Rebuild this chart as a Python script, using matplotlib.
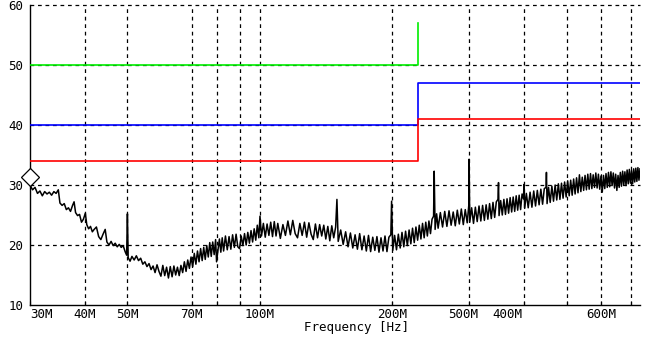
import matplotlib
matplotlib.use("Agg")
import matplotlib.pyplot as plt
from matplotlib.transforms import offset_copy

plt.rcParams['font.family'] = ['DejaVu Sans Mono', 'DejaVu Sans']

# measured trace (MHz, dBuV)
freq_mhz = [
    30.0, 30.4, 30.8, 31.2, 31.6, 32.0, 32.4, 32.8, 33.2, 33.6, 34.0, 34.4, 34.8,
    35.1, 35.5, 35.9, 36.3, 36.7, 37.1, 37.5, 37.8, 38.1, 38.5, 38.9, 39.3, 39.7,
    40.1, 40.4, 40.8, 41.2, 41.6, 42.0, 42.5, 43.0, 43.5, 44.0, 44.5, 44.9, 45.4,
    45.9, 46.4, 46.9, 47.4, 47.9, 48.4, 48.9, 49.4, 49.8, 50.0, 50.2, 50.7, 51.2,
    51.8, 52.4, 53.0, 53.6, 54.2, 54.8, 55.4, 56.0, 56.6, 57.2, 57.8, 58.4, 59.0,
    59.6, 60.2, 60.8, 61.4, 62.0, 62.6, 63.2, 63.8, 64.4, 65.0, 65.6, 66.2, 66.8,
    67.4, 68.0, 68.6, 69.2, 69.8, 70.4, 71.0, 71.6, 72.2, 72.8, 73.4, 74.0, 74.6,
    75.2, 75.8, 76.4, 77.0, 77.6, 78.2, 78.8, 79.4, 79.8, 80.4, 81.0, 81.6, 82.2,
    82.8, 83.6, 84.4, 85.2, 86.0, 86.8, 87.6, 88.4, 89.2, 90.0, 90.8, 91.6, 92.4,
    93.2, 94.0, 94.8, 95.6, 96.4, 97.2, 98.0, 98.8, 99.6, 100.2, 101.0, 102.0,
    103.0, 104.0, 105.0, 106.0, 107.0, 108.0, 109.0, 110.0, 111.5, 113.0, 114.5,
    116.0, 117.5, 119.0, 120.5, 122.0, 123.5, 125.0, 126.5, 128.0, 129.5, 131.0,
    132.5, 134.0, 135.5, 137.0, 138.5, 140.0, 141.5, 143.0, 144.5, 146.0, 147.5,
    149.0, 150.0, 151.0, 153.0, 155.0, 157.0, 159.0, 161.0, 163.0, 165.0, 167.0,
    169.0, 171.0, 173.0, 175.0, 177.0, 179.0, 181.0, 183.0, 185.0, 187.0, 189.0,
    191.0, 193.0, 195.0, 197.0, 199.0, 199.8, 201.0, 203.0, 205.0, 207.0, 209.0,
    211.0, 213.0, 215.0, 217.0, 219.0, 221.0, 223.0, 225.0, 227.0, 229.0, 231.0,
    233.0, 235.0, 237.0, 239.0, 241.0, 243.0, 245.0, 247.0, 249.0, 249.8, 251.0,
    253.0, 255.0, 258.0, 261.0, 264.0, 267.0, 270.0, 273.0, 276.0, 279.0, 282.0,
    285.0, 288.0, 291.0, 294.0, 297.0, 299.5, 300.0, 301.0, 304.0, 307.0, 310.0,
    313.0, 316.0, 319.0, 322.0, 325.0, 328.0, 331.0, 334.0, 337.0, 340.0, 343.0,
    346.0, 349.0, 350.0, 351.0, 354.0, 357.0, 360.0, 363.0, 366.0, 369.0, 372.0,
    375.0, 378.0, 381.0, 384.0, 387.0, 390.0, 393.0, 396.0, 399.0, 400.0, 401.5,
    405.0, 409.0, 413.0, 417.0, 421.0, 425.0, 429.0, 433.0, 437.0, 441.0, 445.0,
    449.0, 450.0, 451.5, 455.0, 459.0, 463.0, 467.0, 471.0, 475.0, 479.0, 483.0,
    487.0, 491.0, 495.0, 499.0, 503.0, 507.0, 511.0, 515.0, 519.0, 523.0, 527.0,
    531.0, 535.0, 539.0, 543.0, 547.0, 551.0, 555.0, 559.0, 563.0, 567.0, 571.0,
    575.0, 579.0, 583.0, 587.0, 591.0, 595.0, 599.0, 603.0, 607.0, 611.0, 615.0,
    619.0, 623.0, 627.0, 631.0, 635.0, 639.0, 643.0, 647.0, 651.0, 655.0, 659.0,
    663.0, 667.0, 671.0, 675.0, 679.0, 683.0, 687.0, 691.0, 695.0, 699.0, 703.0,
    707.0, 711.0, 715.0, 719.0, 723.0, 727.0, 731.0, 735.0,
]
level_db = [
    30.0, 29.2, 29.6, 28.6, 29.0, 28.2, 28.9, 28.5, 28.8, 28.3, 28.9, 28.6, 29.2,
    27.0, 26.6, 26.9, 25.9, 26.2, 25.6, 26.6, 27.2, 25.4, 24.9, 25.1, 23.8, 24.3,
    25.3, 23.4, 22.7, 23.1, 22.2, 22.6, 23.0, 21.4, 20.9, 21.8, 22.6, 20.5, 20.0,
    20.6, 19.9, 20.3, 19.7, 20.1, 19.6, 19.9, 18.9, 18.3, 25.2, 17.9, 17.3, 18.1,
    17.5, 18.2, 17.4, 17.8, 16.8, 17.2, 16.4, 16.9, 15.9, 16.5, 15.4, 16.7, 15.6,
    14.8, 16.6, 14.9, 16.3, 14.5, 16.4, 14.7, 16.5, 15.0, 16.3, 14.9, 16.6, 15.4,
    17.2, 15.6, 17.5, 16.1, 18.0, 16.4, 18.6, 16.8, 19.0, 17.2, 19.4, 17.4, 19.6,
    17.6, 19.9, 18.0, 20.4, 18.1, 20.5, 18.4, 20.9, 17.2, 19.2, 21.0, 18.8, 21.2,
    19.0, 21.5, 19.2, 21.4, 19.3, 21.7, 19.6, 21.8, 19.7, 19.4, 21.5, 19.9, 21.9,
    20.0, 22.1, 20.3, 22.4, 20.5, 22.7, 20.8, 23.3, 21.2, 24.8, 21.5, 23.6,
    21.3, 23.5, 21.6, 23.8, 21.4, 23.9, 21.5, 23.6, 21.1, 23.4, 21.6,
    24.0, 21.7, 24.1, 21.9, 21.2, 23.6, 21.6, 23.8, 21.3, 23.7, 21.8,
    20.9, 23.5, 21.2, 23.4, 21.5, 23.3, 21.0, 23.1, 20.7, 23.2, 21.2,
    23.0, 27.6, 20.6, 22.5, 20.1, 22.2, 19.7, 22.0, 19.5, 21.7, 19.3,
    21.9, 19.2, 21.5, 19.0, 21.6, 18.9, 21.3, 19.1, 21.4, 18.8, 21.2,
    19.0, 21.5, 18.9, 21.3, 21.7, 27.3, 19.1, 21.6, 19.2, 21.8, 19.5,
    22.1, 19.7, 22.3, 19.9, 22.5, 20.2, 22.8, 20.4, 23.0, 20.8, 23.3,
    21.0, 23.6, 21.2, 23.8, 21.5, 24.0, 21.9, 24.3, 24.8, 32.3, 22.6,
    25.2, 22.8, 25.4, 23.0, 25.6, 23.1, 25.7, 23.3, 25.5, 23.2, 25.8,
    23.5, 26.0, 23.4, 25.9, 23.7, 26.6, 34.3, 23.8, 26.2, 23.6, 26.3,
    23.9, 26.5, 24.0, 26.6, 24.1, 26.7, 24.3, 26.9, 24.4, 27.1, 24.6,
    27.2, 27.6, 30.4, 24.9, 27.4, 25.0, 27.6, 25.1, 27.7, 25.3, 27.9,
    25.5, 28.0, 25.6, 28.2, 25.8, 28.3, 25.9, 28.5, 27.7, 30.1, 26.1,
    28.6, 26.2, 28.8, 26.3, 29.0, 26.5, 29.1, 26.7, 29.3, 26.8, 29.4,
    29.6, 32.1, 26.9, 29.6, 27.1, 29.8, 27.3, 30.0, 27.5, 30.2, 27.6,
    30.3, 27.8, 30.5, 28.0, 30.7, 28.2, 30.8, 28.3, 31.0, 28.5, 31.2,
    28.7, 31.7, 28.9, 31.3, 29.1, 31.6, 29.2, 31.8, 29.3, 31.9, 29.4,
    31.7, 29.6, 32.0, 29.5, 31.8, 29.3, 31.5, 28.8, 31.6, 29.4, 31.9,
    29.6, 32.1, 29.7, 32.2, 29.9, 32.0, 29.5, 31.8, 29.1, 31.6, 29.6,
    32.1, 29.8, 32.3, 30.0, 32.2, 29.9, 32.5, 30.2, 32.6, 30.3, 32.4,
    30.2, 32.7, 30.5, 32.8, 30.6, 32.9, 30.8, 32.7,
]

# limit lines (step at 230 MHz)
limit_freq = [30, 230, 230, 735]
limit_green = [50, 50, 57]
limit_blue = [40, 40, 47, 47]
limit_red = [34, 34, 41, 41]

# marker
marker_freq = [30]
marker_db = [31.4]

tick_freqs = [30, 40, 50, 70, 80, 90, 100, 200, 300, 400, 500, 600, 700]
tick_labels = ['30M', '40M', '50M', '70M', '', '', '100M', '200M',
               '500M', '400M', '', '600M', '']
grid_freqs = [40, 50, 70, 80, 90, 100, 200, 300, 400, 500, 600, 700]
y_ticks = [10, 20, 30, 40, 50, 60]

fig = plt.figure(figsize=(6.46, 3.47), dpi=100)
ax = fig.add_axes([30 / 646, 42 / 347, 610 / 646, 300 / 347])
ax.set_xscale('log')
ax.set_xlim(30, 735)
ax.set_ylim(10, 60)

# grid
for f in grid_freqs:
    ax.axvline(f, color='black', lw=0.9, ls=(0, (3, 3)), zorder=1)
for y in y_ticks[1:]:
    ax.axhline(y, color='black', lw=0.9, ls=(0, (3, 3)), zorder=1, clip_on=False)

ax.plot(limit_freq[:3], limit_green, color='#00ee00', lw=1.2, zorder=3)
ax.plot(limit_freq, limit_blue, color='#0000ff', lw=1.2, zorder=3)
ax.plot(limit_freq, limit_red, color='#ff0000', lw=1.2, zorder=3)
ax.plot(freq_mhz, level_db, color='black', lw=1.1, zorder=4)
ax.plot(marker_freq, marker_db, marker='D', ms=9, mfc='white', mec='black',
        mew=0.9, ls='none', clip_on=False, zorder=5)

for s in ['top', 'right']:
    ax.spines[s].set_visible(False)
for s in ['left', 'bottom']:
    ax.spines[s].set_linewidth(1.0)
    ax.spines[s].set_color('black')

ax.set_xticks(tick_freqs)
ax.set_xticklabels([''] * len(tick_freqs))
ax.minorticks_off()
ax.tick_params(axis='x', direction='in', length=3, width=0.8, pad=2)
ax.set_yticks(y_ticks)
ax.set_yticklabels([str(v) for v in y_ticks])
ax.tick_params(axis='y', length=0, pad=5, labelsize=9)

# x tick labels, a few nudged as in the source plot
nudge = {'30M': 0, '500M': -6, '400M': -17}
xt = ax.get_xaxis_transform()
for f, lab in zip(tick_freqs, tick_labels):
    if not lab:
        continue
    tr = offset_copy(xt, fig=fig, x=nudge.get(lab, 0), y=-3, units='dots')
    ax.text(f, 0, lab, transform=tr, ha='left' if lab == '30M' else 'center',
            va='top', fontsize=9)

fig.text(356 / 646, 1 - 328 / 347, 'Frequency [Hz]', ha='center', va='center',
         fontsize=9)

plt.savefig("out.png", dpi=100)
